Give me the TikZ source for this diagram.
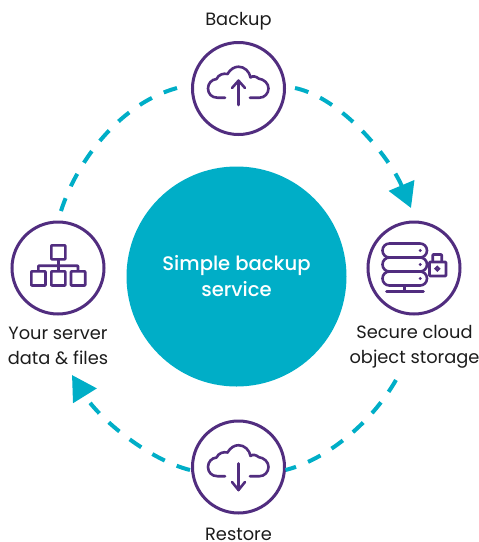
\documentclass[tikz,border=0pt]{standalone}
\usepackage{fontspec}
\setmainfont{Poppins}
\newfontfamily\hubface{Poppins Medium}
\usetikzlibrary{arrows.meta}
\definecolor{teal1}{HTML}{00AEC7}
\definecolor{purp}{HTML}{512D7F}
\definecolor{ink}{HTML}{1C1C1C}
\tikzset{
  ring/.style={circle,draw=purp,line width=3pt,minimum size=92pt,inner sep=0pt,fill=white},
  hub/.style={circle,fill=teal1,minimum size=220pt,inner sep=0pt,text=white,font=\hubface\fontsize{19.6}{26}\selectfont,align=center},
  lab/.style={text=ink,font=\fontsize{17.8}{24.7}\selectfont,align=center,inner sep=0pt},
  link/.style={draw=teal1,line width=4pt,dash pattern=on 14pt off 13pt},
  headed/.style={link,-{Triangle[length=24.5pt,width=27pt,fill=teal1]}},
  icon/.style={draw=purp,line width=2.6pt,line cap=round,line join=round},
  pill/.style={draw=purp,line width=2.6pt,rounded corners=6.9pt},
  boxline/.style={draw=purp,line width=2.6pt,line join=round,rounded corners=0.6pt},
  pics/cloudshape/.style={code={
    \draw[icon] (-13.5,9.2) -- (-21,9.2) .. controls (-27,9.2) and (-30.5,5) .. (-30.5,0)
      .. controls (-30.5,-5) and (-27,-9) .. (-22,-9.5)
      .. controls (-20,-14) and (-15,-15.5) .. (-11,-14.5)
      .. controls (-8,-19.5) and (-4,-21.8) .. (0,-21.8)
      .. controls (6,-21.8) and (11,-17) .. (12,-11)
      .. controls (14,-13) and (18,-12) .. (20,-10)
      .. controls (26,-9) and (30,-5) .. (30,0)
      .. controls (30,5) and (26,9.2) .. (21,9.2) -- (11.5,9.2);
  }}
}
\begin{document}
\begin{tikzpicture}[x=1pt,y=-1pt]
\useasboundingbox (0,0) rectangle (479,542);
\node[hub] (centre) at (236.5,276.5) {Simple backup\\service};
\node[ring] (top) at (238.5,88.5) {};
\node[ring] (right) at (414,268) {};
\node[ring] (left) at (58,268) {};
\node[ring] (bottom) at (238.5,467) {};
\node[lab,anchor=base] (lbackup) at (238.5,25) {Backup};
\node[lab,anchor=base] (lrestore) at (238.5,540.5) {Restore};
\node[lab] (lleft) at (58,346) {Your server\\data \& files};
\node[lab] (lright) at (414.5,346.5) {Secure cloud\\object storage};
% connectors
\coordinate (a0) at (295,88);
\coordinate (a1) at (411,208);
\coordinate (b0) at (285.5,470);
\coordinate (b1) at (396,380);
\coordinate (c0) at (190,470);
\coordinate (c1) at (72,375);
\coordinate (d0) at (177,88);
\coordinate (d1) at (61,211);
\draw[headed] (a0) .. controls (342,98) and (390,158) .. (a1);
\draw[link,dash phase=3pt] (b0) .. controls (325,460) and (370,425) .. (b1);
\draw[headed] (c0) .. controls (150,460) and (100,420) .. (c1);
\draw[link] (d0) .. controls (122,103) and (78,158) .. (d1);
% cloud icons
\pic at (238.5,88.5) {cloudshape};
\draw[icon] (238.5,105) -- (238.5,80.7);
\draw[icon] (232,88) -- (238.5,80.7) -- (245,88);
\pic at (238.5,467) {cloudshape};
\draw[icon] (238.5,463.5) -- (238.5,490);
\draw[icon] (232,482) -- (238.5,490) -- (245,482);
% server icon
\draw[pill] (382.5,243.5) rectangle (427,257.5);
\draw[pill] (382.5,257.5) rectangle (427,271.5);
\draw[pill] (382.5,271.5) rectangle (427,285.5);
\fill[purp] (420.3,250.5) circle (1.6) (420.3,264.5) circle (1.6) (420.3,278.5) circle (1.6);
\draw[icon] (404.3,285.5) -- (404.3,291.5);
\draw[icon] (386.5,291.5) -- (423.5,291.5);
\draw[boxline] (429.5,262) rectangle (446,276);
\draw[boxline] (432.7,262) -- (432.7,254.5) -- (441.7,254.5) -- (441.7,262);
\draw[draw=purp,line width=2pt] (437.3,268.7) circle (1.9);
% hierarchy icon
\draw[boxline] (51.3,245.3) rectangle (65.3,259.3);
\draw[boxline] (31.3,271.3) rectangle (45.5,285.5);
\draw[boxline] (51.3,271.3) rectangle (65.3,285.5);
\draw[boxline] (71,271.3) rectangle (85.2,285.5);
\draw[boxline] (58.3,259.3) -- (58.3,271.3);
\draw[boxline] (38.3,271.3) -- (38.3,265.7) -- (78,265.7) -- (78,271.3);
\end{tikzpicture}
\end{document}
